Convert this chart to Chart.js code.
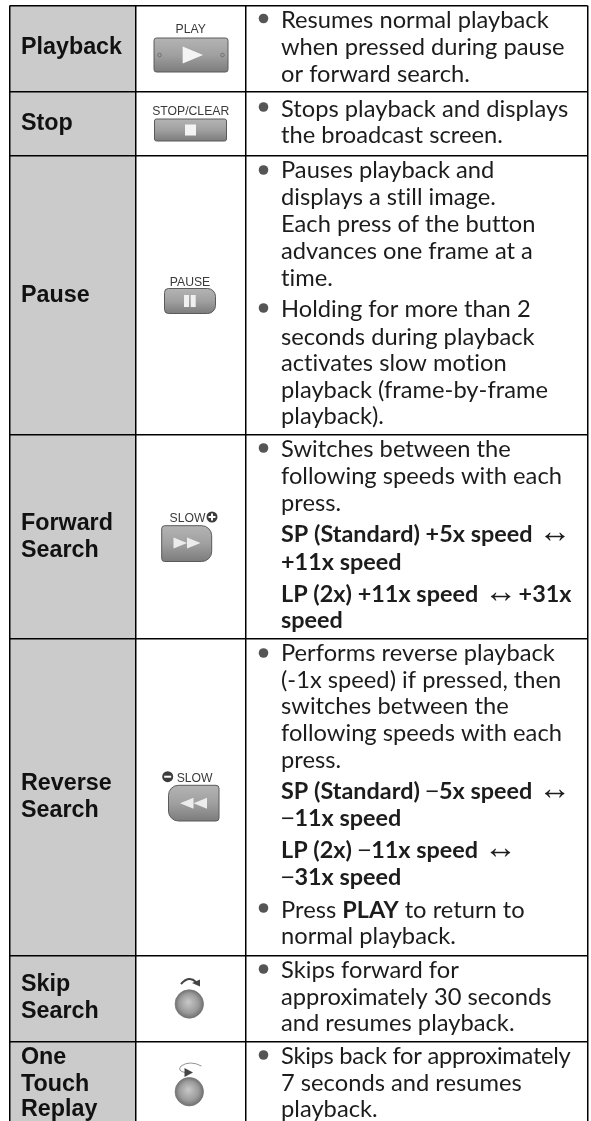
<!DOCTYPE html>
<html>
<head>
<meta charset="utf-8">
<style>
  html, body { margin: 0; padding: 0; background: #fff; }
  canvas { display: block; }
</style>
<script src="https://cdn.jsdelivr.net/npm/chart.js@4"></script>
</head>
<body>
<canvas id="tableChart" width="591" height="1121"></canvas>
<script>
// table content
const rowNames = ['Playback', 'Stop', 'Pause', 'Forward\nSearch', 'Reverse\nSearch', 'Skip\nSearch', 'One\nTouch\nReplay'];
const buttonLabels = ['PLAY', 'STOP/CLEAR', 'PAUSE', 'SLOW', 'SLOW'];
const descriptionLines = [
    'Resumes normal playback', 'when pressed during pause', 'or forward search.',
    'Stops playback and displays', 'the broadcast screen.',
    'Pauses playback and', 'displays a still image.', 'Each press of the button', 'advances one frame at a', 'time.',
    'Holding for more than 2', 'seconds during playback', 'activates slow motion', 'playback (frame-by-frame', 'playback).',
    'Switches between the', 'following speeds with each', 'press.',
    '**SP (Standard) +5x speed ↔**', '**+11x speed**', '**LP (2x) +11x speed ↔ +31x**', '**speed**',
    'Performs reverse playback', '(-1x speed) if pressed, then', 'switches between the', 'following speeds with each', 'press.',
    '**SP (Standard) −5x speed ↔**', '**−11x speed**', '**LP (2x) −11x speed ↔**', '**−31x speed**',
    'Press **PLAY** to return to', 'normal playback.',
    'Skips forward for', 'approximately 30 seconds', 'and resumes playback.',
    'Skips back for approximately', '7 seconds and resumes', 'playback.'
];

// axis ticks: the table rules
const columnEdges = [9.5, 135.5, 246, 587.5];
const rowEdges = [5.5, 92, 156, 435, 639, 955.5, 1042, 1121];

// where the text sits on the y axis
const descriptionBaselines = [28, 55, 82, 117, 143, 178, 205, 232, 259, 286, 317, 345, 371, 398, 424, 457, 484, 511, 542, 570, 602, 628, 661, 688, 714, 741, 768, 799, 826, 858, 885, 918, 944, 978, 1005, 1031, 1064, 1091, 1117];
const nameBaselines = [[54], [130], [302], [530, 556.5], [790, 817], [991, 1018], [1064, 1091, 1116]];
const bulletYs = [18.5, 107, 170, 308, 448, 653, 908, 969, 1055];
// this one line is set tighter in the original
const tightLine = 36;

const bodyFont = '"Lato", sans-serif';
const headFont = '"Liberation Sans", Arial, sans-serif';

function metalGradient(ctx, top, bottom) {
    const g = ctx.createLinearGradient(0, top, 0, bottom);
    g.addColorStop(0, '#b4b4b4');
    g.addColorStop(0.5, '#a0a0a0');
    g.addColorStop(1, '#7c7c7c');
    return g;
}

function drawButton(ctx, x1, y1, x2, y2, radii) {
    ctx.beginPath();
    ctx.roundRect(x1, y1, x2 - x1, y2 - y1, radii);
    ctx.fillStyle = metalGradient(ctx, y1, y2);
    ctx.fill();
    ctx.strokeStyle = '#5a5a5a';
    ctx.lineWidth = 1;
    ctx.stroke();
}

function drawShape(ctx, pts, color) {
    ctx.beginPath();
    pts.forEach((p, i) => i ? ctx.lineTo(p[0], p[1]) : ctx.moveTo(p[0], p[1]));
    ctx.closePath();
    ctx.fillStyle = color;
    ctx.fill();
}

function drawSignCircle(ctx, cx, cy, plus) {
    ctx.beginPath();
    ctx.arc(cx, cy, 5.5, 0, Math.PI * 2);
    ctx.fillStyle = '#3c3c3c';
    ctx.fill();
    ctx.fillStyle = '#fff';
    ctx.fillRect(cx - 3.5, cy - 1, 7, 2);
    if (plus) ctx.fillRect(cx - 1, cy - 3.5, 2, 7);
}

function drawKnob(ctx, cx, cy) {
    const g = ctx.createRadialGradient(cx - 1, cy - 2, 1, cx, cy, 14.5);
    g.addColorStop(0, '#c4c4c4');
    g.addColorStop(0.65, '#9a9a9a');
    g.addColorStop(1, '#6e6e6e');
    ctx.beginPath();
    ctx.arc(cx, cy, 14.2, 0, Math.PI * 2);
    ctx.fillStyle = g;
    ctx.fill();
    ctx.strokeStyle = '#777';
    ctx.lineWidth = 0.8;
    ctx.stroke();
}

function drawButtons(ctx, x, y) {
    ctx.textBaseline = 'alphabetic';
    ctx.fillStyle = '#3a3a3a';
    ctx.font = '12.2px ' + headFont;
    ctx.textAlign = 'center';
    ctx.fillText(buttonLabels[0], x(190.7), y(33));
    ctx.fillText(buttonLabels[1], x(190.7), y(115));
    ctx.fillText(buttonLabels[2], x(190), y(285.5));
    ctx.textAlign = 'left';
    ctx.fillText(buttonLabels[3], x(169.5), y(522));
    ctx.fillText(buttonLabels[4], x(176.7), y(782));

    // play
    drawButton(ctx, x(154), y(38), x(228), y(72), 2.5);
    drawShape(ctx, [[x(182.7), y(46.5)], [x(182.7), y(63.5)], [x(203), y(55)]], '#f4f4f4');
    [159.5, 222.5].forEach(cx => {
        ctx.beginPath();
        ctx.arc(x(cx), y(55), 1.8, 0, Math.PI * 2);
        ctx.strokeStyle = '#666';
        ctx.lineWidth = 0.8;
        ctx.stroke();
    });

    // stop
    drawButton(ctx, x(154.5), y(119), x(226.5), y(141), 2);
    ctx.fillStyle = '#f4f4f4';
    ctx.fillRect(x(185), y(124.5), 11, 11);

    // pause
    drawButton(ctx, x(164.5), y(288.5), x(215.5), y(313.5), [4, 8, 8, 4]);
    ctx.fillStyle = '#f0f0f0';
    ctx.fillRect(x(184), y(295), 5, 12);
    ctx.fillRect(x(190.7), y(295), 5, 12);

    // forward search
    drawSignCircle(ctx, x(212), y(517), true);
    drawButton(ctx, x(161.7), y(525.7), x(211.7), y(561.5), [3, 10, 10, 3]);
    drawShape(ctx, [[x(173.5), y(537.5)], [x(173.5), y(548.5)], [x(187), y(543)]], '#ececec');
    drawShape(ctx, [[x(187), y(537.5)], [x(187), y(548.5)], [x(200.5), y(543)]], '#ececec');

    // reverse search
    drawSignCircle(ctx, x(167.7), y(776.7), false);
    drawButton(ctx, x(168.5), y(785.3), x(219), y(821), [10, 3, 3, 10]);
    drawShape(ctx, [[x(193.5), y(797.8)], [x(193.5), y(808.8)], [x(180), y(803.3)]], '#ececec');
    drawShape(ctx, [[x(207), y(797.8)], [x(207), y(808.8)], [x(193.5), y(803.3)]], '#ececec');

    // skip search knob and arrow
    drawKnob(ctx, x(189.3), y(1004));
    ctx.strokeStyle = '#444';
    ctx.lineWidth = 2;
    ctx.beginPath();
    ctx.moveTo(x(181), y(984));
    ctx.quadraticCurveTo(x(189), y(975), x(196), y(982));
    ctx.stroke();
    drawShape(ctx, [[x(192), y(983)], [x(200), y(979.5)], [x(200), y(986.5)]], '#444');

    // one touch replay knob and arrow
    drawKnob(ctx, x(189.3), y(1091.7));
    ctx.beginPath();
    ctx.moveTo(x(201.5), y(1066));
    ctx.quadraticCurveTo(x(190), y(1060), x(181), y(1066));
    ctx.quadraticCurveTo(x(177), y(1071), x(185), y(1072.5));
    ctx.stroke();
    drawShape(ctx, [[x(184.5), y(1068)], [x(193), y(1072.5)], [x(184.5), y(1077)]], '#444');
}

// a line can hold **bold** runs; the arrow and minus are thin in the original
function drawRuns(ctx, line, startX, baseline, spacing) {
    let cursor = startX;
    line.split('**').forEach((run, i) => {
        run.split(/([↔−])/).forEach(part => {
            if (!part) return;
            let trim = 0;
            if (part === '↔') {
                ctx.font = 'bold 33px ' + headFont;
                ctx.letterSpacing = '0px';
                trim = 4;
            } else if (part === '−') {
                ctx.font = '23px ' + headFont;
                ctx.letterSpacing = '0px';
            } else {
                ctx.font = i % 2 ? 'bold 23.4px ' + bodyFont : '23.7px ' + bodyFont;
                ctx.letterSpacing = spacing;   // nonzero also stops the tt/ti ligatures
            }
            ctx.fillText(part, cursor, baseline);
            cursor += ctx.measureText(part).width - trim;
        });
    });
    ctx.letterSpacing = '0px';
}

const tableText = {
    id: 'tableText',
    afterDraw(chart) {
        const { ctx } = chart;
        const x = v => chart.scales.x.getPixelForValue(v);
        const y = v => chart.scales.y.getPixelForValue(v);
        ctx.save();
        ctx.textAlign = 'left';
        ctx.textBaseline = 'alphabetic';
        ctx.fillStyle = '#111';
        ctx.font = 'bold 23.3px ' + headFont;
        rowNames.forEach((name, i) => {
            name.split('\n').forEach((part, j) => ctx.fillText(part, x(21), y(nameBaselines[i][j])));
        });
        ctx.fillStyle = '#1c1c1c';
        descriptionLines.forEach((line, i) => {
            drawRuns(ctx, line, x(281), y(descriptionBaselines[i]), i === tightLine ? '-0.27px' : '0.01px');
        });
        drawButtons(ctx, x, y);
        ctx.restore();
    }
};

new Chart(document.getElementById('tableChart').getContext('2d'), {
    type: 'bar',
    data: {
        datasets: [
            {
                // grey name column, one floating bar per row
                type: 'bar',
                data: rowNames.map((name, i) => ({ x: (columnEdges[0] + columnEdges[1]) / 2, y: [rowEdges[i], rowEdges[i + 1]] })),
                backgroundColor: '#cbcbcb',
                barThickness: 126,
                borderWidth: 0
            },
            {
                type: 'scatter',
                data: bulletYs.map(y => ({ x: 263.5, y })),
                pointStyle: 'circle',
                pointRadius: 4.8,
                pointBackgroundColor: '#555',
                pointBorderWidth: 0,
                showLine: false
            }
        ]
    },
    plugins: [tableText],
    options: {
        responsive: false,
        animation: false,
        layout: { autoPadding: false, padding: { left: 9.5, top: 5.5, right: 3.5, bottom: 0 } },
        plugins: { legend: { display: false }, tooltip: { enabled: false }, title: { display: false } },
        scales: {
            x: {
                type: 'linear',
                offset: false,
                min: columnEdges[0],
                max: columnEdges[columnEdges.length - 1],
                afterBuildTicks: scale => { scale.ticks = columnEdges.map(value => ({ value })); },
                afterFit: scale => { scale.height = 0; scale.paddingLeft = 0; scale.paddingRight = 0; },
                ticks: { display: false },
                border: { display: false },
                grid: { color: '#000', lineWidth: 1.5, drawTicks: false, offset: false, z: 1 }
            },
            y: {
                type: 'linear',
                reverse: true,
                min: rowEdges[0],
                max: rowEdges[rowEdges.length - 1],
                afterBuildTicks: scale => { scale.ticks = rowEdges.slice(0, -1).map(value => ({ value })); },
                afterFit: scale => { scale.width = 0; scale.paddingTop = 0; scale.paddingBottom = 0; },
                ticks: { display: false },
                border: { display: false },
                grid: { color: '#000', lineWidth: 1.5, drawTicks: false, z: 1 }
            }
        }
    }
});
</script>
</body>
</html>
